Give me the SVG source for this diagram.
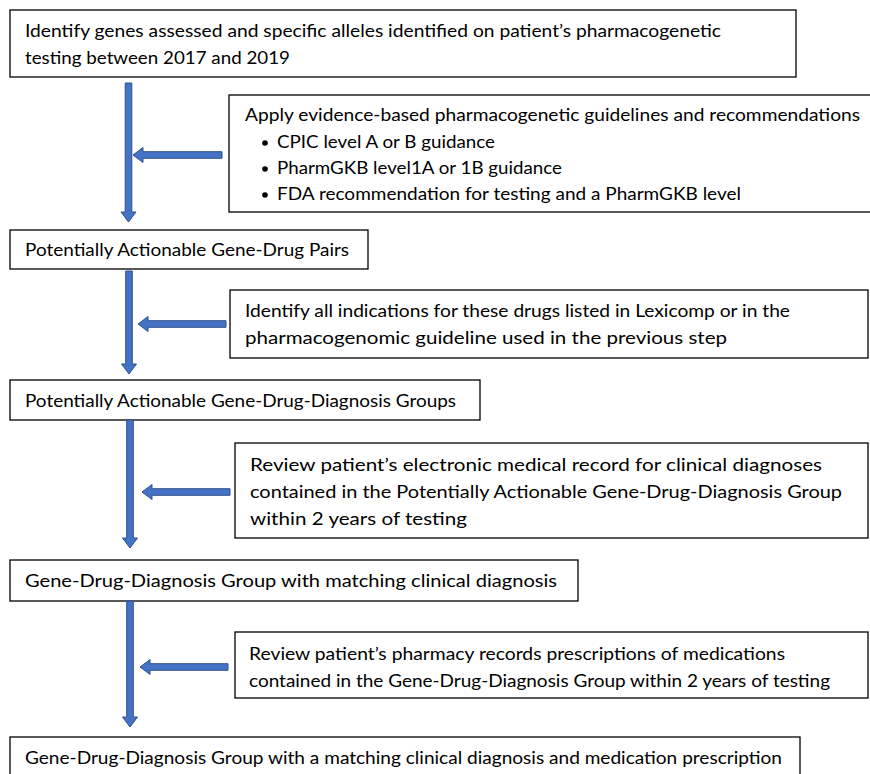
<svg xmlns="http://www.w3.org/2000/svg" width="870" height="774" viewBox="0 0 870 774">
<style>
.box{fill:#fff;stroke:#000;stroke-width:1.3}
.t{font-family:Lato,"Open Sans","Liberation Sans",sans-serif;font-size:17px;fill:#000}
.arr{fill:#4472C4;stroke:#2F528F;stroke-width:1}
</style>
<rect width="870" height="774" fill="#fff"/>
<g id="n1"><rect class="box" x="10" y="10" width="786" height="67"/>
<text class="t" x="25" y="36.5" textLength="696" lengthAdjust="spacingAndGlyphs">Identify genes assessed and specific alleles identified on patient’s pharmacogenetic</text>
<text class="t" x="25" y="64" textLength="265" lengthAdjust="spacingAndGlyphs">testing between 2017 and 2019</text></g>
<g id="n2"><rect class="box" x="229" y="95" width="645" height="117"/>
<text class="t" x="245" y="121" textLength="615" lengthAdjust="spacingAndGlyphs">Apply evidence-based pharmacogenetic guidelines and recommendations</text>
<circle cx="265" cy="143" r="2.8"/><text class="t" x="277" y="148" textLength="218" lengthAdjust="spacingAndGlyphs">CPIC level A or B guidance</text>
<circle cx="265" cy="169" r="2.8"/><text class="t" x="277" y="174" textLength="285" lengthAdjust="spacingAndGlyphs">PharmGKB level1A or 1B guidance</text>
<circle cx="265" cy="195" r="2.8"/><text class="t" x="277" y="200" textLength="464" lengthAdjust="spacingAndGlyphs">FDA recommendation for testing and a PharmGKB level</text></g>
<g id="n3"><rect class="box" x="10" y="230" width="358" height="39"/>
<text class="t" x="25" y="256" textLength="324" lengthAdjust="spacingAndGlyphs">Potentially Actionable Gene-Drug Pairs</text></g>
<g id="n4"><rect class="box" x="230" y="290" width="638" height="68"/>
<text class="t" x="245" y="317" textLength="545" lengthAdjust="spacingAndGlyphs">Identify all indications for these drugs listed in Lexicomp or in the</text>
<text class="t" x="245" y="344" textLength="482" lengthAdjust="spacingAndGlyphs">pharmacogenomic guideline used in the previous step</text></g>
<g id="n5"><rect class="box" x="10" y="380" width="470" height="40"/>
<text class="t" x="25" y="407" textLength="431" lengthAdjust="spacingAndGlyphs">Potentially Actionable Gene-Drug-Diagnosis Groups</text></g>
<g id="n6"><rect class="box" x="235" y="443" width="633" height="95"/>
<text class="t" x="250" y="471" textLength="572" lengthAdjust="spacingAndGlyphs">Review patient’s electronic medical record for clinical diagnoses</text>
<text class="t" x="250" y="498" textLength="592" lengthAdjust="spacingAndGlyphs">contained in the Potentially Actionable Gene-Drug-Diagnosis Group</text>
<text class="t" x="250" y="525" textLength="217" lengthAdjust="spacingAndGlyphs">within 2 years of testing</text></g>
<g id="n7"><rect class="box" x="10" y="560" width="568" height="41"/>
<text class="t" x="25" y="587" textLength="532" lengthAdjust="spacingAndGlyphs">Gene-Drug-Diagnosis Group with matching clinical diagnosis</text></g>
<g id="n8"><rect class="box" x="235" y="632" width="633" height="66"/>
<text class="t" x="249" y="660" textLength="536" lengthAdjust="spacingAndGlyphs">Review patient’s pharmacy records prescriptions of medications</text>
<text class="t" x="249" y="687" textLength="581" lengthAdjust="spacingAndGlyphs">contained in the Gene-Drug-Diagnosis Group within 2 years of testing</text></g>
<g id="n9"><rect class="box" x="10" y="737" width="790" height="45"/>
<text class="t" x="25" y="764" textLength="757" lengthAdjust="spacingAndGlyphs">Gene-Drug-Diagnosis Group with a matching clinical diagnosis and medication prescription</text></g>
<g id="connectors">
<path class="arr" d="M125.2,83 H131.8 V212 H136 L128.5,222 L121,212 H125.2 Z"/>
<path class="arr" d="M222,151.7 V158.3 H143 V162.5 L133,155 L143,147.5 V151.7 Z"/>
<path class="arr" d="M125.7,271 H132.3 V364 H136.5 L129,374 L121.5,364 H125.7 Z"/>
<path class="arr" d="M226,320.7 V327.3 H148 V331.5 L138,324 L148,316.5 V320.7 Z"/>
<path class="arr" d="M126.7,420 H133.3 V538 H137.5 L130,548 L122.5,538 H126.7 Z"/>
<path class="arr" d="M230,488.7 V495.3 H152 V499.5 L142,492 L152,484.5 V488.7 Z"/>
<path class="arr" d="M126.7,601 H133.3 V717 H137.5 L130,727 L122.5,717 H126.7 Z"/>
<path class="arr" d="M228,663.7 V670.3 H150 V674.5 L140,667 L150,659.5 V663.7 Z"/>
</g>
</svg>
